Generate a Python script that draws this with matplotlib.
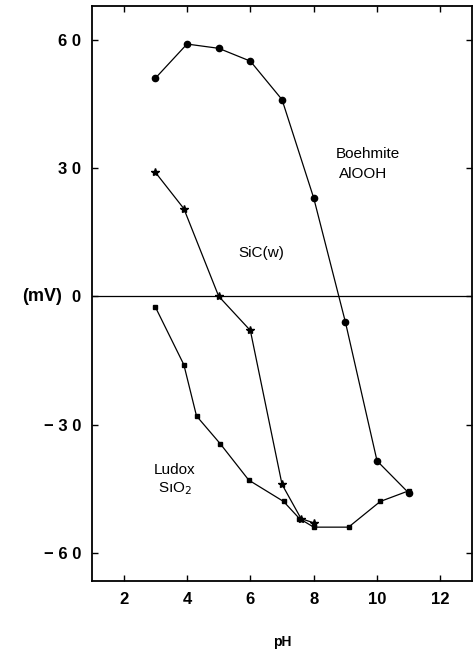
"""
Zeta potential vs pH for Boehmite, SiC whiskers and Ludox silica.
"""

import matplotlib
matplotlib.use('Agg')
import matplotlib.pyplot as plt

# ---------------------------------------------------------------------------
# Data
# ---------------------------------------------------------------------------

boehmite_ph = [3.0, 4.0, 5.0, 6.0, 7.0, 8.0, 9.0, 10.0, 11.0]
boehmite_mv = [51, 59, 58, 55, 46, 23, -6, -38.5, -46]

sic_ph = [3.0, 3.9, 5.0, 6.0, 7.0, 7.6, 8.0]
sic_mv = [29, 20.5, 0, -8, -44, -52, -53]

ludox_ph = [3.0, 3.9, 4.3, 5.05, 5.95, 7.05, 7.55, 8.0, 9.1, 10.1, 11.0]
ludox_mv = [-2.5, -16, -28, -34.5, -43, -48, -52, -54, -54, -48, -45.5]

x_ticks = [2, 4, 6, 8, 10, 12]
y_ticks = [60, 30, 0, -30, -60]
y_tick_labels = ['6 0', '3 0', '0', '\u2212 3 0', '\u2212 6 0']

plt.rcParams['font.family'] = ['Liberation Sans', 'DejaVu Sans']

fig = plt.figure(figsize=(4.73, 6.51), dpi=100)
ax = fig.add_axes([0.1945, 0.1075, 0.8035, 0.8833])

ax.axhline(0, color='black', lw=0.9)

ax.plot(boehmite_ph, boehmite_mv, color='black', lw=0.9,
        marker='o', markersize=4.5)
ax.plot(sic_ph, sic_mv, color='black', lw=0.9,
        marker='*', markersize=6)
ax.plot(ludox_ph, ludox_mv, color='black', lw=0.9,
        marker='s', markersize=2.8)

ax.set_xlim(1, 13)
ax.set_ylim(-66.6, 67.9)
ax.set_xticks(x_ticks)
ax.set_yticks(y_ticks)
ax.set_yticklabels(y_tick_labels)
ax.tick_params(direction='in', top=True, right=True, length=4, width=1,
               labelsize=12, pad=8)
for lab in ax.get_xticklabels() + ax.get_yticklabels():
    lab.set_fontweight('bold')
for sp in ax.spines.values():
    sp.set_linewidth(1.3)

ax.set_xlabel('pH', fontsize=10, fontweight='bold', labelpad=20)
ax.text(-0.08, 0, '(mV)', transform=ax.get_yaxis_transform(),
        ha='right', va='center', fontsize=13, fontweight='bold')

ax.text(9.72, 33.2, 'Boehmite', ha='center', va='center', fontsize=11)
ax.text(9.56, 28.5, 'AlOOH', ha='center', va='center', fontsize=11)
ax.text(6.34, 10.1, 'SiC(w)', ha='center', va='center', fontsize=11)
ax.text(3.62, -40.7, 'Ludox', ha='center', va='center', fontsize=11)
ax.text(3.62, -44.9, 'S\u0131O$_2$', ha='center', va='center', fontsize=11)

fig.savefig('out.png', dpi=100)
